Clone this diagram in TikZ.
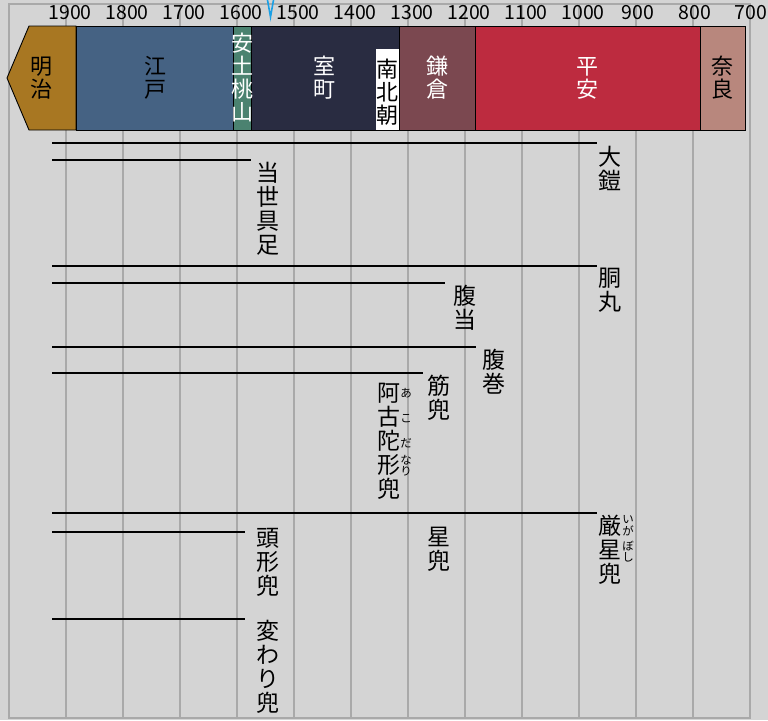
\documentclass[tikz,border=0pt]{standalone}
\usepackage{fontspec}
\setmainfont{Noto Sans CJK JP}
\definecolor{bg}{HTML}{D4D4D4}
\definecolor{gridgray}{HTML}{A9A9A9}
\definecolor{meiji}{HTML}{A87722}
\definecolor{edo}{HTML}{456283}
\definecolor{azuchi}{HTML}{4B8270}
\definecolor{muro}{HTML}{292C41}
\definecolor{kama}{HTML}{7B4850}
\definecolor{heian}{HTML}{BD2B3F}
\definecolor{nara}{HTML}{B8877D}
\definecolor{marker}{HTML}{1AA0E6}
\begin{document}
\begin{tikzpicture}[x=1pt,y=-1pt,
  gridline/.style={draw=gridgray, line width=1.3pt},
  era/.style={draw=black, line width=0.9pt},
  eralbl/.style={font=\fontsize{22}{23}\selectfont, align=center, inner sep=0},
  lbl/.style={font=\fontsize{23}{24}\selectfont, align=center, inner sep=0, anchor=north},
  spanline/.style={draw=black, line width=1.1pt},
  ruby/.style={font=\fontsize{11.5}{12}\selectfont, inner sep=0},
  yr/.style={font=\fontsize{19.5}{20}\selectfont, inner sep=0}]
\useasboundingbox (0,0) rectangle (768,720);
\fill[bg] (0,0) rectangle (768,720);
% grid
\foreach \i in {0,...,12} \draw[gridline] (66+57*\i,4) -- (66+57*\i,718);
\draw[gridline] (9,4) rectangle (750.5,718);
% year labels
\foreach \y [count=\i from 0] in {1900,1800,1700,1600,1500,1400,1300,1200,1100,1000}
  \node[yr] (yr\i) at (70+57*\i,13) {\y};
\node[yr] (yr10) at (638,13) {900};
\node[yr] (yr11) at (695,13) {800};
\node[yr] (yr12) at (751,13) {700};
% era band
\draw[era, fill=meiji] (76,26) -- (29,26) -- (7,78) -- (29,130) -- (76,130) -- cycle;
\draw[era, fill=edo] (76,26) rectangle (233,130);
\draw[era, fill=azuchi] (233,26) rectangle (251,130);
\draw[era, fill=muro] (251,26) rectangle (399,130);
\fill[white] (376,49) rectangle (398.5,129.5);
\draw[era, fill=kama] (399,26) rectangle (475,130);
\draw[era, fill=heian] (475,26) rectangle (700,130);
\draw[era, fill=nara] (700,26) rectangle (745,130);
\node[eralbl, text=black] (meiji) at (41.5,78) {明\\治};
\node[eralbl, text=black] (edo) at (155,78) {江\\戸};
\node[eralbl, text=white] (azuchi) at (242,77) {安\\土\\桃\\山};
\node[eralbl, text=white] (muro) at (324,78) {室\\町};
\node[eralbl, text=black] (nanboku) at (387.5,92) {南\\北\\朝};
\node[eralbl, text=white] (kama) at (437,78) {鎌\\倉};
\node[eralbl, text=white] (heian) at (587.5,78) {平\\安};
\node[eralbl, text=black] (nara) at (722.5,78) {奈\\良};
% labels
\node[lbl] (oyoroi) at (610,146) {大\\鎧};
\node[lbl] (tosei) at (267.5,162) {当\\世\\具\\足};
\node[lbl] (domaru) at (610,268) {胴\\丸};
\node[lbl] (haraate) at (465,285) {腹\\当};
\node[lbl] (haramaki) at (494,349) {腹\\巻};
\node[lbl] (suji) at (439,375) {筋\\兜};
\node[lbl] (akoda) at (389,383) {阿\\古\\陀\\形\\兜};
\node[lbl] (ikaboshi) at (610,515) {厳\\星\\兜};
\node[lbl] (hoshi) at (439,527) {星\\兜};
\node[lbl] (zunari) at (267.5,528) {頭\\形\\兜};
\node[lbl] (kawari) at (267.5,620) {変\\わ\\り\\兜};
% ruby
\node[ruby] (ra1) at (406,393) {あ};
\node[ruby] (ra2) at (406,419) {こ};
\node[ruby] (ra3) at (406,443) {だ};
\node[ruby] (ra4) at (406,460) {な};
\node[ruby] (ra5) at (406,471.5) {り};
\node[ruby] (ri1) at (628,520) {い};
\node[ruby] (ri2) at (628,530.5) {が};
\node[ruby] (ri3) at (628,546) {ぼ};
\node[ruby] (ri4) at (628,557.5) {し};
% spans
\coordinate (s1) at (52,143);
\coordinate (s2) at (52,160);
\coordinate (s3) at (52,266);
\coordinate (s4) at (52,283);
\coordinate (s5) at (52,347);
\coordinate (s6) at (52,373);
\coordinate (s7) at (52,513);
\coordinate (s8) at (52,532);
\coordinate (s9) at (52,619);
\draw[spanline, shorten >=1.5pt] (s1) -- (s1 -| oyoroi.west);
\draw[spanline, shorten >=5pt] (s2) -- (s2 -| tosei.west);
\draw[spanline, shorten >=1.5pt] (s3) -- (s3 -| domaru.west);
\draw[spanline, shorten >=8pt] (s4) -- (s4 -| haraate.west);
\draw[spanline, shorten >=6.5pt] (s5) -- (s5 -| haramaki.west);
\draw[spanline, shorten >=4.5pt] (s6) -- (s6 -| suji.west);
\draw[spanline, shorten >=1.5pt] (s7) -- (s7 -| ikaboshi.west);
\draw[spanline, shorten >=10.5pt] (s8) -- (s8 -| zunari.west);
\draw[spanline, shorten >=10.5pt] (s9) -- (s9 -| kawari.west);
% marker
\draw[marker, line width=1.6pt] (267.5,0) -- (270.5,17) -- (273.5,0);
\end{tikzpicture}
\end{document}
